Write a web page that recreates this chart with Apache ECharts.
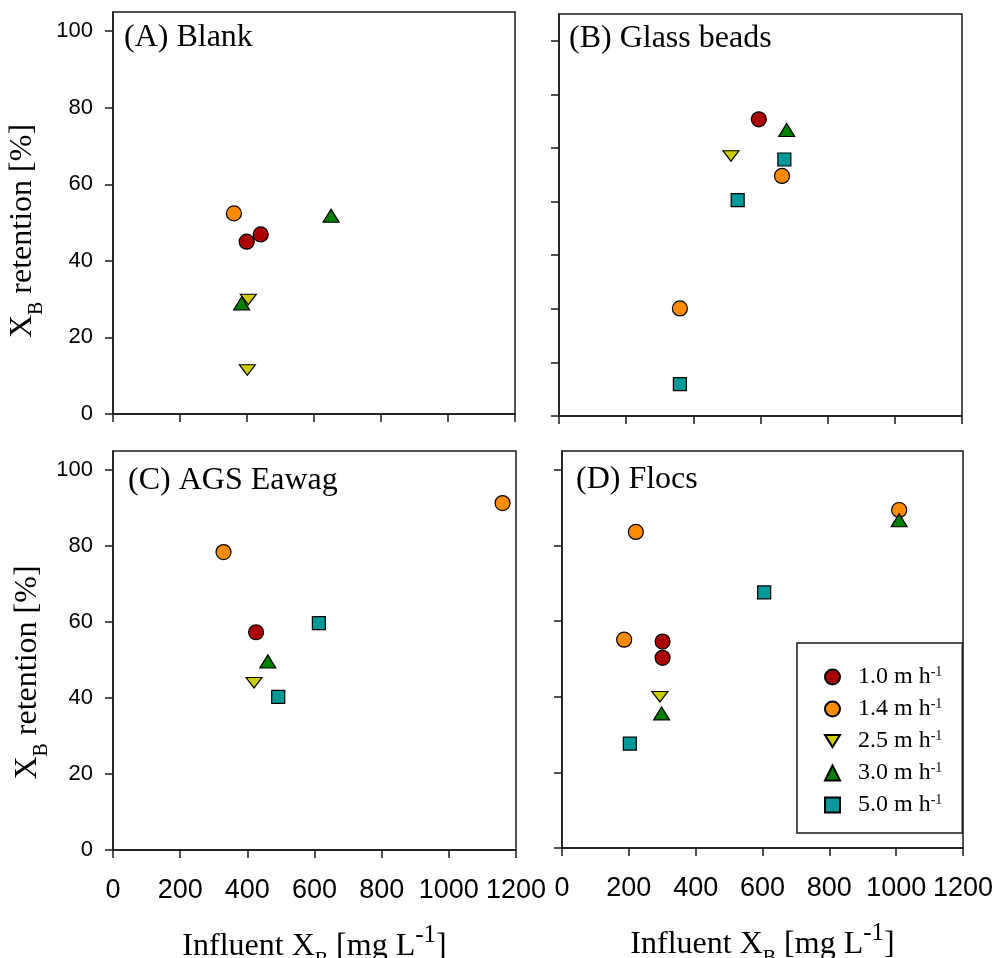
<!DOCTYPE html>
<html lang="en">
<head>
<meta charset="UTF-8">
<title>XB retention</title>
<script src="https://cdn.jsdelivr.net/npm/echarts@6/dist/echarts.min.js"></script>
<style>html,body{margin:0;padding:0;background:#fff}</style>
</head>
<body>
<div id="main" style="width:997px;height:958px"></div>
<script type="text/javascript">
// velocities (legend), ticks
var speeds = ['1.0', '1.4', '2.5', '3.0', '5.0'];
var xTicks = [0, 200, 400, 600, 800, 1000, 1200];
var yTicks = [0, 20, 40, 60, 80, 100];
var yTicksB = [0, 14, 28, 42, 56, 70, 84, 98];
var panelNames = ['(A) Blank', '(B) Glass beads', '(C) AGS Eawag', '(D) Flocs'];

// [influent XB, retention %] per panel and velocity
var blank10 = [[399, 45.0], [441, 46.9]];
var blank14 = [[361, 52.4]];
var blank25 = [[404, 29.9], [401, 11.5]];
var blank30 = [[384, 28.9], [651, 51.8]];
var blank50 = [];

var glass10 = [[595, 77.5]];
var glass14 = [[664, 62.7], [360, 28.1]];
var glass25 = [[512, 67.9]];
var glass30 = [[678, 74.7]];
var glass50 = [[671, 67.0], [532, 56.4], [360, 8.3]];

var ags10 = [[426, 57.3]];
var ags14 = [[329, 78.4], [1160, 91.3]];
var ags25 = [[420, 44.0]];
var ags30 = [[461, 49.6]];
var ags50 = [[492, 40.3], [613, 59.7]];

var flocs10 = [[301, 54.6], [301, 50.3]];
var flocs14 = [[221, 83.6], [186, 55.1], [1009, 89.4]];
var flocs25 = [[293, 40.0]];
var flocs30 = [[298, 35.6], [1009, 86.7]];
var flocs50 = [[203, 27.6], [605, 67.6]];

var panelData = [
    [blank10, blank14, blank25, blank30, blank50],
    [glass10, glass14, glass25, glass30, glass50],
    [ags10, ags14, ags25, ags30, ags50],
    [flocs10, flocs14, flocs25, flocs30, flocs50]
];

var marks = [
    {symbol: 'circle', size: 15, color: '#aa0000'},
    {symbol: 'circle', size: 15, color: '#ff8c00'},
    {symbol: 'path://M0,0L16,0L8,13Z', size: [16, 13], color: '#cccc00'},
    {symbol: 'triangle', size: [16, 13], color: '#008000'},
    {symbol: 'rect', size: 13, color: '#00999a'}
];

var serif = 'Liberation Serif';
var sans = 'Liberation Sans';
var ink = '#1a1a1a';

var grids = [
    {left: 113, top: 12, width: 402, height: 402},
    {left: 559, top: 14, width: 403, height: 402},
    {left: 113, top: 451, width: 403, height: 399},
    {left: 562, top: 451, width: 401, height: 397}
];
grids.forEach(function (g) {
    g.show = true;
    g.borderColor = ink;
    g.borderWidth = 1.5;
    g.containLabel = false;
    g.outerBoundsMode = 'none';
});

var xAxes = [], yAxes = [], titles = [], series = [];
var labelOffsets = [[11, 22], [10, 23], [15, 465], [14, 464]];
var yNamePad = [36, 44];
var yNameGap = [66, 61];

function plain(v) { return String(v); }

for (var i = 0; i < 4; i++) {
    var bottomRow = i >= 2;
    var leftCol = i % 2 === 0;
    xAxes.push({
        type: 'value', gridIndex: i, min: 0, max: 1200,
        axisLine: {show: true, lineStyle: {color: ink, width: 1.5}},
        axisTick: {show: true, inside: false, length: 8, lineStyle: {color: ink, width: 1.5}, customValues: xTicks},
        axisLabel: {show: bottomRow, customValues: xTicks, formatter: plain, showMinLabel: true, showMaxLabel: true,
            hideOverlap: false, fontFamily: sans, fontSize: 27, color: '#000', margin: 27},
        splitLine: {show: false},
        name: bottomRow ? '{a|Influent X}{b|B}{a| [mg L}{c|-1}{a|]}' : '',
        nameLocation: 'middle',
        nameGap: 73,
        nameTextStyle: {
            rich: {
                a: {fontFamily: serif, fontSize: 32, lineHeight: 48, color: '#000'},
                b: {fontFamily: serif, fontSize: 20, lineHeight: 22, verticalAlign: 'bottom', color: '#000'},
                c: {fontFamily: serif, fontSize: 25, lineHeight: 24, verticalAlign: 'top', color: '#000'}
            }
        }
    });
    var ticks = i === 1 ? yTicksB : yTicks;
    yAxes.push({
        type: 'value', gridIndex: i, min: 0, max: 105,
        axisLine: {show: true, lineStyle: {color: ink, width: 1.5}},
        axisTick: {show: true, inside: false, length: 8, lineStyle: {color: ink, width: 1.5}, customValues: ticks},
        axisLabel: {show: leftCol, customValues: ticks, formatter: plain, fontFamily: sans, fontSize: 22, color: '#000', margin: 20},
        splitLine: {show: false},
        name: leftCol ? '{a|X}{b|B}{a| retention [%]}' : '',
        nameLocation: 'middle',
        nameGap: leftCol ? yNameGap[i / 2] : 0,
        nameTextStyle: {
            padding: [0, leftCol ? yNamePad[i / 2] : 0, 0, 0],
            rich: {
                a: {fontFamily: serif, fontSize: 32, lineHeight: 48, color: '#000'},
                b: {fontFamily: serif, fontSize: 20, lineHeight: 24, verticalAlign: 'bottom', color: '#000'}
            }
        }
    });
    titles.push({
        text: panelNames[i],
        left: grids[i].left + labelOffsets[i][0],
        top: labelOffsets[i][1],
        padding: 0,
        textStyle: {fontFamily: serif, fontSize: 32, fontWeight: 'normal', color: '#000', lineHeight: 32}
    });
    for (var k = 0; k < 5; k++) {
        series.push({
            type: 'scatter',
            name: speeds[k],
            xAxisIndex: i, yAxisIndex: i,
            symbol: marks[k].symbol,
            symbolSize: marks[k].size,
            symbolKeepAspect: true,
            itemStyle: {color: marks[k].color, borderColor: '#000', borderWidth: 1.2, opacity: 1},
            data: panelData[i][k]
        });
    }
}

var myChart = echarts.init(document.getElementById('main'));
myChart.setOption({
    animation: false,
    backgroundColor: '#fff',
    title: titles,
    grid: grids,
    xAxis: xAxes,
    yAxis: yAxes,
    legend: {
        orient: 'vertical',
        left: 797, top: 643,
        padding: [22, 20, 16, 27],
        itemGap: 8, itemWidth: 15, itemHeight: 15,
        borderColor: ink, borderWidth: 1.5,
        selectedMode: false,
        data: speeds,
        formatter: function (n) { return '{t|' + n + ' m h}{s|-1}'; },
        textStyle: {
            rich: {
                t: {fontFamily: serif, fontSize: 24, lineHeight: 24, color: '#000', padding: [0, 0, 0, 13]},
                s: {fontFamily: serif, fontSize: 14, lineHeight: 14, verticalAlign: 'top', color: '#000'}
            }
        }
    },
    series: series
});
</script>
</body>
</html>
